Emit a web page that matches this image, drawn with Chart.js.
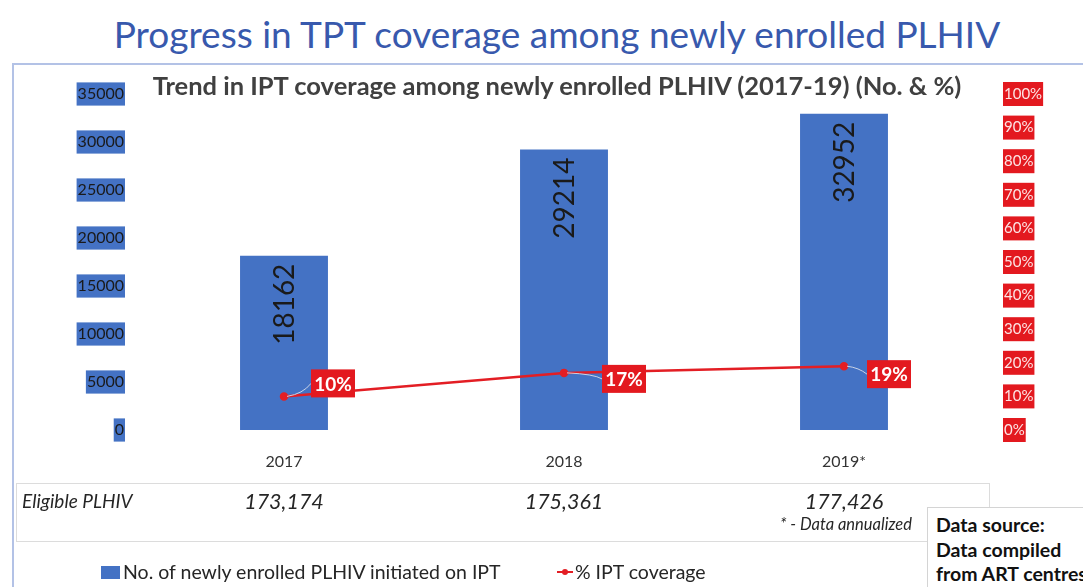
<!DOCTYPE html>
<html>
<head>
<meta charset="utf-8">
<script src="https://cdn.jsdelivr.net/npm/chart.js@4.4.1/dist/chart.umd.min.js"></script>
<style>
  html, body { margin: 0; padding: 0; background: #fff; }
  body { width: 1083px; height: 587px; position: relative; overflow: hidden; font-family: Lato, "Open Sans", sans-serif; }
  #chart-1 { position: absolute; left: 0; top: 0; }
  .abs { position: absolute; white-space: nowrap; }
  #title { left: 0; width: 1114px; top: 11px; text-align: center; font-size: 37px; color: #3859ad; }
  #topline { left: 12px; right: 0; top: 63px; height: 2px; background: #b3c2e6; }
  #leftline { left: 12px; top: 63px; bottom: 0; width: 2px; background: #b3c2e6; }
  #subtitle { left: 0; width: 1114px; top: 70px; text-align: center; font-size: 25.5px; font-weight: bold; color: #404040; }
  #table { left: 16px; top: 483px; width: 974px; height: 59px; border: 1px solid #dcdcdc; box-sizing: border-box; }
  .cell { top: 488px; font-style: italic; font-size: 21.5px; color: #262626; transform: translateX(-50%); }
  #elig { left: 22px; top: 489px; font-style: italic; font-size: 19px; color: #262626; }
  #annual { right: 171px; top: 514px; font-style: italic; font-size: 16.5px; color: #262626; }
  #source { left: 927px; top: 507px; width: 200px; height: 100px; background: #fff; border: 1px solid #d4d4d4; box-sizing: border-box; padding: 5px 0 0 8px; font-weight: bold; font-size: 19.5px; line-height: 24.5px; color: #111; }
  .legend { top: 560px; font-size: 19.5px; color: #262626; }
  .swatch { display: inline-block; width: 19px; height: 13px; background: #4472c4; margin-right: 3px; vertical-align: 0px; }
  .lswatch { display: inline-block; position: relative; width: 16px; height: 12px; margin-right: 2px; vertical-align: 1px; }
  .lswatch i { position: absolute; left: 0; right: 0; top: 5px; height: 2px; background: #e31e24; }
  .lswatch b { position: absolute; left: 5px; top: 3px; width: 6px; height: 6px; border-radius: 50%; background: #e31e24; }
</style>
</head>
<body>
<div class="abs" id="title">Progress in TPT coverage among newly enrolled PLHIV</div>
<div class="abs" id="topline"></div>
<div class="abs" id="leftline"></div>
<canvas id="chart-1" width="1083" height="587"></canvas>
<div class="abs" id="subtitle">Trend in IPT coverage among newly enrolled PLHIV (2017-19) (No. &amp; %)</div>
<div class="abs" id="table"></div>
<div class="abs" id="elig">Eligible PLHIV</div>
<div class="abs" id="annual">* - Data annualized</div>
<div class="abs legend" style="left:101px"><span class="swatch"></span>No. of newly enrolled PLHIV initiated on IPT</div>
<div class="abs legend" style="left:557px"><span class="lswatch"><i></i><b></b></span>% IPT coverage</div>
<div class="abs" id="source">Data source:<br>Data compiled<br>from ART centres</div>

<script>
const years = ['2017', '2018', '2019*'];
const initiatedOnIPT = [18162, 29214, 32952];
const iptCoverage = [10, 17, 19];
const eligiblePLHIV = ['173,174', '175,361', '177,426'];

// where excel put the % labels, relative to the point
const pctLabelOffset = [[49, -13], [60, 6], [45, 8]];

const valueLabels = {
    id: 'valueLabels',
    afterDatasetsDraw(chart) {
        const ctx = chart.ctx;
        const bars = chart.getDatasetMeta(0).data;
        ctx.save();
        ctx.fillStyle = '#1a1a1a';
        ctx.font = '28px Lato';
        ctx.textAlign = 'right';
        ctx.textBaseline = 'middle';
        bars.forEach((bar, i) => {
            ctx.save();
            ctx.translate(bar.x + 1, bar.y + 8);
            ctx.rotate(-Math.PI / 2);
            ctx.fillText(String(initiatedOnIPT[i]), 0, 0);
            ctx.restore();
        });

        const pts = chart.getDatasetMeta(1).data;
        ctx.font = 'bold 19px Lato';
        ctx.textAlign = 'center';
        pts.forEach((p, i) => {
            const cx = p.x + pctLabelOffset[i][0];
            const cy = p.y + pctLabelOffset[i][1];
            const w = 44, h = 28;
            ctx.strokeStyle = '#c9d3e6';
            ctx.lineWidth = 1;
            ctx.beginPath();
            ctx.moveTo(p.x + 3, p.y);
            ctx.quadraticCurveTo(cx - w / 2 - 8, p.y - (p.y - cy) * 0.2, cx - w / 2, cy);
            ctx.stroke();
            ctx.fillStyle = '#e3191f';
            ctx.fillRect(cx - w / 2, cy - h / 2, w, h);
            ctx.fillStyle = '#fff';
            ctx.fillText(iptCoverage[i] + '%', cx, cy + 1);
        });
        ctx.restore();
    },
    afterDraw(chart) {
        // eligible PLHIV row sits under the category labels
        const x = chart.scales.x;
        eligiblePLHIV.forEach((v, i) => {
            const d = document.createElement('div');
            d.className = 'abs cell';
            d.style.left = x.getPixelForValue(i) + 'px';
            d.textContent = v;
            document.body.appendChild(d);
        });
    }
};

const ctx1 = document.getElementById('chart-1').getContext('2d');
const myChart = new Chart(ctx1, {
    data: {
        labels: years,
        datasets: [
            {
                type: 'bar',
                label: 'No. of newly enrolled PLHIV initiated on IPT',
                data: initiatedOnIPT,
                backgroundColor: '#4472c4',
                categoryPercentage: 1,
                barPercentage: 0.314,
                yAxisID: 'y',
                order: 2,
            },
            {
                type: 'line',
                label: '% IPT coverage',
                data: iptCoverage,
                borderColor: '#e31e24',
                backgroundColor: '#e31e24',
                borderWidth: 2.5,
                pointRadius: 3,
                tension: 0,
                fill: false,
                yAxisID: 'y1',
                order: 1,
            },
        ],
    },
    options: {
        responsive: false,
        animation: false,
        devicePixelRatio: 1,
        layout: { padding: { left: 0, right: 0, top: 94, bottom: 107 } },
        plugins: {
            legend: { display: false },
            tooltip: { enabled: false },
        },
        scales: {
            x: {
                grid: { display: false, drawTicks: false },
                border: { display: false },
                ticks: { color: '#333', font: { family: 'Lato', size: 16 }, padding: 22 },
                afterFit(scale) { scale.height = 50; },
            },
            y: {
                position: 'left',
                min: 0,
                max: 35000,
                grid: { display: false, drawTicks: false },
                border: { display: false },
                ticks: {
                    stepSize: 5000,
                    color: '#1a1a1a',
                    font: { family: 'Lato', size: 16 },
                    padding: 20,
                    showLabelBackdrop: true,
                    backdropColor: '#4472c4',
                    backdropPadding: { top: 2, bottom: 2, left: 1, right: 1 },
                    callback: (v) => String(v),
                },
                afterFit(scale) { scale.width = 144; },
            },
            y1: {
                position: 'right',
                min: 0,
                max: 100,
                grid: { display: false, drawTicks: false },
                border: { display: false },
                ticks: {
                    stepSize: 10,
                    color: '#fde4e4',
                    font: { family: 'Lato', size: 15 },
                    padding: 20,
                    showLabelBackdrop: true,
                    backdropColor: '#e3191f',
                    backdropPadding: { top: 3, bottom: 3, left: 1, right: 1 },
                    callback: (v) => v + '%',
                },
                afterFit(scale) { scale.width = 99; },
            },
        },
    },
    plugins: [valueLabels],
});
</script>
</body>
</html>
